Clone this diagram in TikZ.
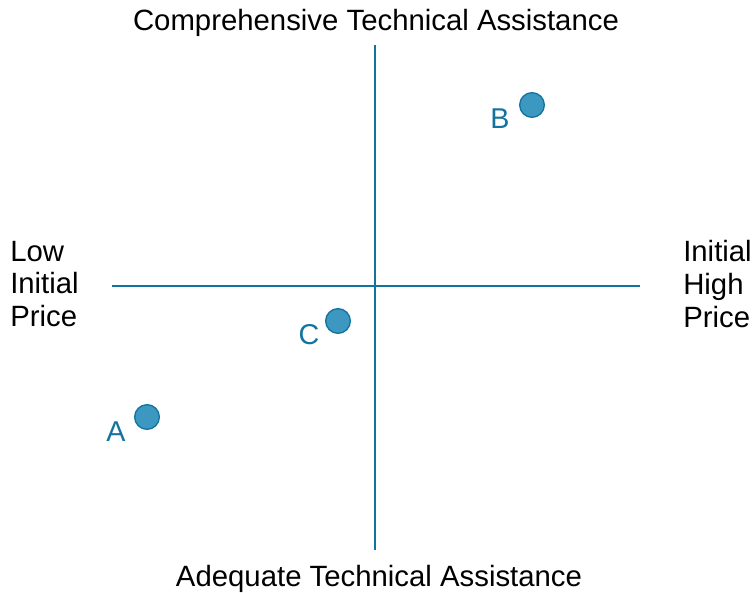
\documentclass[tikz,border=0pt]{standalone}
\usepackage{fontspec}
\setmainfont{Liberation Sans}
\usepackage{tikz}
\usetikzlibrary{arrows.meta}
\usepackage{xcolor}
\definecolor{ColA}{RGB}{18,116,158}
\definecolor{ColB}{RGB}{60,152,192}
\tikzstyle{AxisLine}=[ColA,line width=1.3pt]
\tikzstyle{PointNode}=[circle,draw=ColA,fill=ColB,line width=1pt,inner sep=0pt,minimum size=18.5pt]
\tikzstyle{PointLabel}=[ColA,font=\fontsize{21.5}{24}\selectfont,inner sep=0pt]
\tikzstyle{AxisLabel}=[black,font=\fontsize{22}{24.6}\selectfont,inner sep=0pt]

\begin{document}
\begin{tikzpicture}[x=0.75pt,y=-0.75pt]
        \useasboundingbox (0,0) rectangle (752,592);
        \coordinate(top)at(375,45);
        \coordinate(bottom)at(375,550);
        \coordinate(left)at(112,286);
        \coordinate(right)at(640,286);
        \draw[AxisLine](top)--(bottom);
        \draw[AxisLine](left)--(right);
        \node[AxisLabel](ytop)at(376,23){Comprehensive Technical Assistance};
        \node[AxisLabel](ybot)at(379,579){Adequate Technical Assistance};
        \node[AxisLabel,align=left,anchor=west](xlow)at(10,284){Low\\Initial\\Price};
        \node[AxisLabel,align=left,anchor=west](xhigh)at(683,284){Initial\\High\\Price};
        \node[PointNode](b)at(532,105){};
        \node[PointNode](c)at(338,321){};
        \node[PointNode](a)at(147,417){};
        \node[PointLabel](lb)at(500,119){B};
        \node[PointLabel](lc)at(309,335){C};
        \node[PointLabel](la)at(116,432){A};
    \end{tikzpicture}
\end{document}
